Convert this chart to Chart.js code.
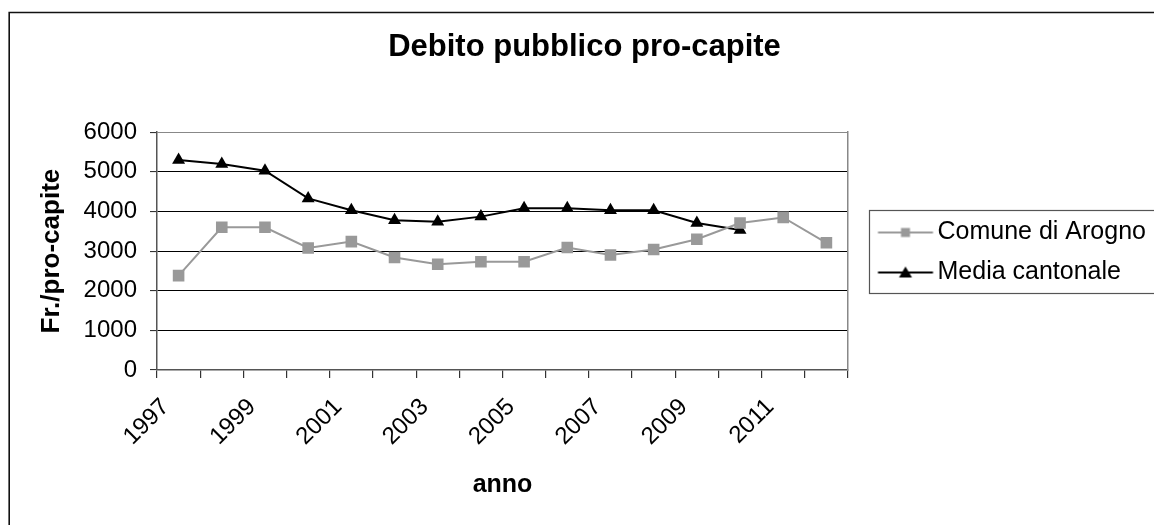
<!DOCTYPE html>
<html><head><meta charset="utf-8">
<script src="https://cdn.jsdelivr.net/npm/chart.js@4.4.1/dist/chart.umd.min.js"></script>
<style>html,body{margin:0;padding:0;background:#fff;overflow:hidden}#wrap{position:relative;width:1154px;height:525px}</style>
</head><body><div id="wrap"><canvas id="c" width="1154" height="525"></canvas></div>
<script>
const years = ['1997','1998','1999','2000','2001','2002','2003','2004','2005','2006','2007','2008','2009','2010','2011','2012'];
const comune = [2380,3600,3600,3080,3240,2840,2670,2730,2730,3090,2900,3040,3300,3710,3850,3210];
const media = [5300,5200,5030,4330,4030,3780,3740,3870,4080,4080,4030,4030,3710,3530];
const yTicks = [0,1000,2000,3000,4000,5000,6000];
const seriesNames = ['Comune di Arogno','Media cantonale'];
const titleText = 'Debito pubblico pro-capite';
const yTitle = 'Fr./pro-capite';
const xTitle = 'anno';

const FONT = '"Liberation Sans", Arial, sans-serif';
const GREY = '#999999';

function legendImg(kind){
  const c = document.createElement('canvas');
  c.width = 60; c.height = 16;
  const g = c.getContext('2d');
  g.lineWidth = 2;
  g.strokeStyle = kind === 0 ? GREY : '#000';
  g.beginPath(); g.moveTo(3.5, 8); g.lineTo(58.5, 8); g.stroke();
  g.fillStyle = kind === 0 ? GREY : '#000';
  if (kind === 0) { g.fillRect(26.5, 3.5, 9, 9); }
  else { g.beginPath(); g.moveTo(31, 2); g.lineTo(37.5, 13); g.lineTo(24.5, 13); g.closePath(); g.fill(); }
  return c;
}
const legendImgs = [legendImg(0), legendImg(1)];

const framePlugin = {
  id: 'frame',
  afterLayout(chart){
    const lg = chart.legend;
    if (lg) { lg.top -= 10; lg.bottom -= 10; }
  },
  beforeDraw(chart){
    const ctx = chart.ctx;
    ctx.save();
    ctx.fillStyle = '#fff';
    ctx.fillRect(0, 0, chart.width, chart.height);
    ctx.strokeStyle = '#111';
    ctx.lineWidth = 1.6;
    ctx.beginPath();
    ctx.moveTo(9.2, chart.height + 10);
    ctx.lineTo(9.2, 12.5);
    ctx.lineTo(chart.width + 10, 12.5);
    ctx.stroke();
    ctx.restore();
  },
  afterDraw(chart){
    const lg = chart.legend;
    if (!lg || !lg.legendHitBoxes || !lg.legendHitBoxes.length) return;
    const hb = lg.legendHitBoxes;
    const top = hb[0].top - 10;
    const bottom = hb[hb.length-1].top + hb[hb.length-1].height + 8;
    const ctx = chart.ctx;
    ctx.save();
    ctx.strokeStyle = '#555';
    ctx.lineWidth = 1.2;
    ctx.strokeRect(Math.round(lg.left) + 0.5, Math.round(top) + 0.5, 400, Math.round(bottom - top));
    ctx.restore();
  }
};

new Chart(document.getElementById('c'), {
  type: 'line',
  data: {
    labels: years,
    datasets: [
      { label: seriesNames[0], data: comune, borderColor: GREY, backgroundColor: GREY, borderWidth: 2,
        pointStyle: 'rect', pointRadius: 8.2, pointBorderWidth: 0, pointBackgroundColor: GREY, tension: 0 },
      { label: seriesNames[1], data: media, borderColor: '#000', backgroundColor: '#000', borderWidth: 2,
        pointStyle: 'triangle', pointRadius: 7.5, pointBorderWidth: 0, pointBackgroundColor: '#000', tension: 0 }
    ]
  },
  options: {
    responsive: false,
    animation: false,
    events: [],
    layout: { padding: { left: 20, right: 5, top: 0, bottom: 0 } },
    plugins: {
      tooltip: { enabled: false },
      title: { display: true, text: titleText, color: '#000',
        font: { family: FONT, size: 31, weight: 'bold' }, padding: { top: 29, bottom: 66 } },
      legend: {
        position: 'right', align: 'center', maxWidth: 280,
        labels: {
          color: '#000', font: { family: FONT, size: 25 }, usePointStyle: true, pointStyleWidth: 41,
          padding: 15,
          generateLabels(chart){
            const items = Chart.defaults.plugins.legend.labels.generateLabels(chart);
            items.forEach(it => { it.pointStyle = legendImgs[it.datasetIndex]; });
            return items;
          }
        }
      }
    },
    scales: {
      x: {
        type: 'category', offset: true,
        grid: { offset: true, drawOnChartArea: false, tickLength: 8, color: '#333', lineWidth: 1.2 },
        border: { color: '#555', width: 1.5 },
        ticks: { autoSkip: false, maxRotation: 45, minRotation: 45, color: '#000', padding: 15, labelOffset: -13,
          font: { family: FONT, size: 24 },
          callback(v, i){ return i % 2 === 0 ? this.getLabelForValue(v) : ''; } },
        title: { display: true, text: xTitle, color: '#000', font: { family: FONT, size: 25, weight: 'bold' },
          padding: { top: 0, bottom: 25 } },
        afterFit(s){ s.height = 155; }
      },
      y: {
        min: yTicks[0], max: yTicks[yTicks.length-1],
        grid: { color: (c) => (c.tick && c.tick.value === yTicks[yTicks.length-1]) ? '#888' : '#000', lineWidth: 1.1, tickLength: 7, tickColor: '#333' },
        border: { color: '#555', width: 1.5 },
        ticks: { stepSize: yTicks[1]-yTicks[0], color: '#000', padding: 13, font: { family: FONT, size: 24 },
          callback(v){ return String(v); } },
        title: { display: true, text: yTitle, color: '#000', font: { family: FONT, size: 26, weight: 'bold' },
          padding: { top: 16, bottom: 0 } },
        afterFit(s){ s.width = 137; }
      },
      spacer: {
        type: 'linear', position: 'right', display: true,
        grid: { display: false, drawOnChartArea: false, drawTicks: false },
        border: { display: true, color: '#888', width: 1.5 },
        ticks: { display: false },
        afterFit(s){ s.width = 21; }
      }
    }
  },
  plugins: [framePlugin]
});
</script>
</body></html>
